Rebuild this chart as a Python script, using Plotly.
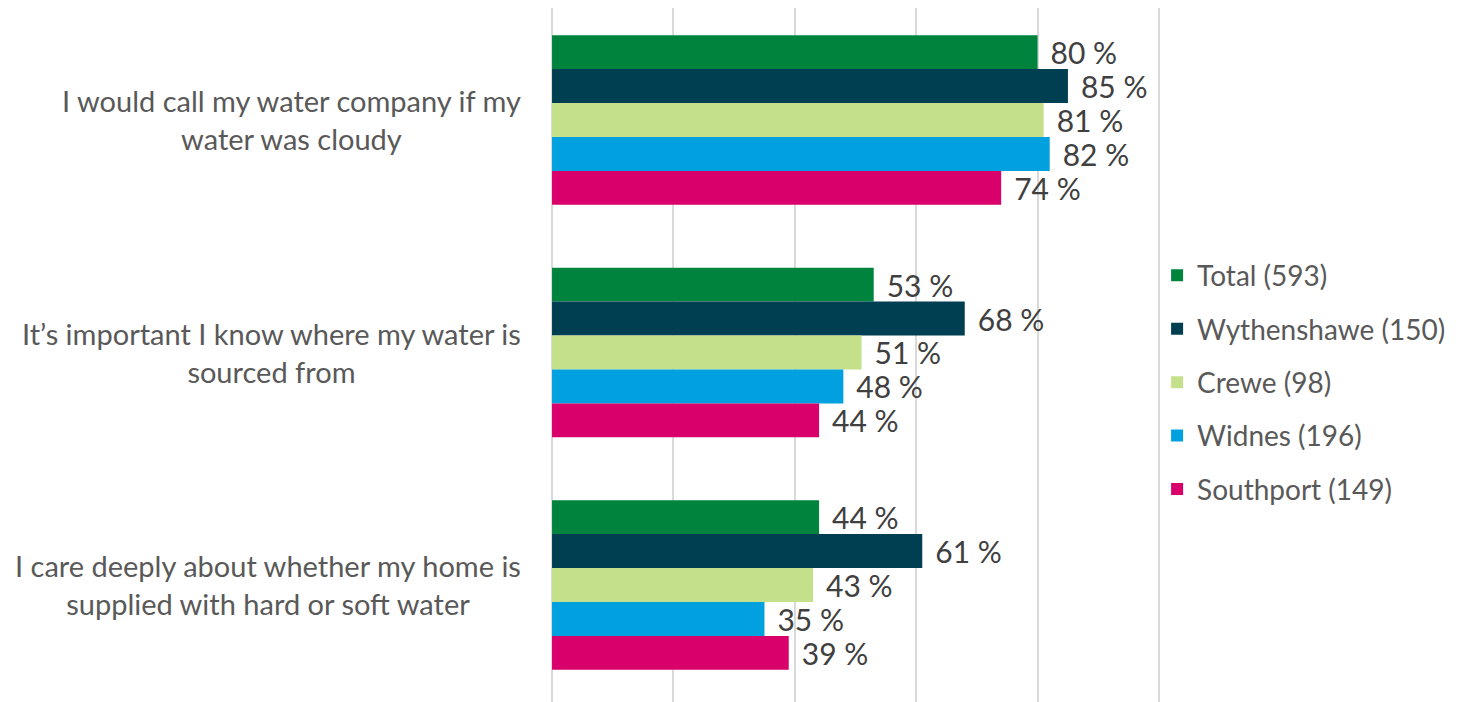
import plotly.graph_objects as go

categories = [
    "I would call my water company if my<br>water was cloudy",
    "It\u2019s important I know where my water is<br>sourced from",
    "I care deeply about whether my home is<br>supplied with hard or soft water",
]
series_names = ["Total (593)", "Wythenshawe (150)", "Crewe (98)", "Widnes (196)", "Southport (149)"]
total = [80, 53, 44]
wythenshawe = [85, 68, 61]
crewe = [81, 51, 43]
widnes = [82, 48, 35]
southport = [74, 44, 39]
series_values = [total, wythenshawe, crewe, widnes, southport]
colors = ["#00843D", "#003F52", "#C5E08A", "#00A1DE", "#D9006C"]

FONT = "Lato"
TXT = "#595959"

fig = go.Figure()
for i, (name, vals, col) in enumerate(zip(series_names, series_values, colors)):
    fig.add_trace(go.Bar(
        y=categories, x=vals, name=name, orientation="h",
        marker=dict(color=col, line=dict(width=0)),
        text=[f"\u2004{v} %" for v in vals], textposition="outside",
        textfont=dict(family=FONT, size=30, color="#404040"),
        constraintext="none", cliponaxis=False,
        legendgroup=f"g{i}", legendrank=i + 1,
    ))

for c in categories:
    fig.add_annotation(x=-26 / 613, xref="paper", y=c, yref="y", text=c,
                       showarrow=False, xanchor="right", yanchor="middle", align="center",
                       font=dict(family=FONT, size=29, color=TXT))

fig.update_layout(
    width=1461, height=702,
    margin=dict(l=541, r=307, t=0, b=0),
    plot_bgcolor="white", paper_bgcolor="white",
    barmode="group", bargap=0.27, bargroupgap=0,
    font=dict(family=FONT, color=TXT, size=29),
    xaxis=dict(range=[-0.5, 100.5], tickvals=[0, 20, 40, 60, 80, 100], showticklabels=False,
               showgrid=True, gridcolor="#D9D9D9", gridwidth=2, zeroline=False, showline=False,
               fixedrange=True),
    yaxis=dict(range=[2.5377, -0.4817], showticklabels=False, showgrid=False, zeroline=False,
               showline=False),
    showlegend=True,
    legend=dict(x=0.992, xanchor="left", y=0.467, yanchor="middle",
                font=dict(family=FONT, size=28, color=TXT), tracegroupgap=14,
                bgcolor="rgba(0,0,0,0)", itemwidth=30),
)

fig.write_html("out.html")
